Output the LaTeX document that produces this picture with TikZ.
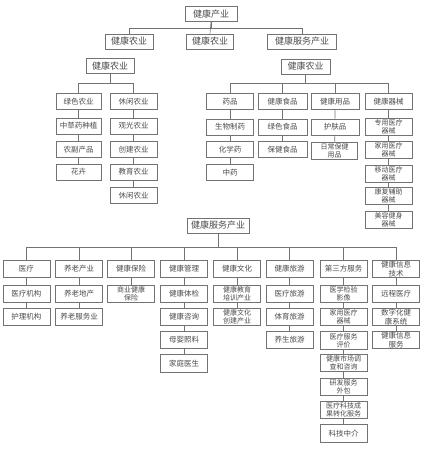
\documentclass[tikz,border=0pt]{standalone}
\usepackage{fontspec}
\newfontfamily\cjk{Noto Sans CJK SC}
\tikzset{
  box/.style={draw=black!55, line width=0.6pt, fill=white, inner sep=0pt,
    minimum width=47pt, minimum height=16pt, text=black!70, align=center,
    font=\cjk\fontsize{7.5}{8.5}\selectfont},
  head/.style={box, font=\cjk\fontsize{9}{10}\selectfont, minimum height=15pt},
  two/.style={box, font=\cjk\fontsize{7}{7.8}\selectfont, minimum height=17pt},
  link/.style={draw=black!55, line width=0.6pt}
}
\begin{document}
\begin{tikzpicture}[x=1pt,y=-1pt]
\useasboundingbox (0,0) rectangle (426,450);
% top level
\node[head, minimum width=52pt] (top) at (211,14) {健康产业};
\node[head, minimum width=48pt] (agr) at (129,41.5) {健康农业};
\node[head, minimum width=47pt] (ind) at (210,41.5) {健康农业};
\node[head, minimum width=69pt] (srv) at (302,41.5) {健康服务产业};
\draw[link] (top.south) -- ++(0,6.5) -| (agr.north);
\draw[link] (top.south) -- (ind.north);
\draw[link] (top.south) -- ++(0,6.5) -| (srv.north);

% agriculture
\node[head, minimum width=48pt] (a0) at (110,66) {健康农业};
\node[box, minimum width=45pt] (a1) at (78.5,101.5) {绿色农业};
\node[box, minimum width=45pt] (a11) at (78.5,126) {中草药种植};
\node[box, minimum width=45pt] (a12) at (78.5,149.5) {农副产品};
\node[box, minimum width=45pt] (a13) at (78.5,172) {花卉};
\node[box] (a2) at (133.5,101.5) {休闲农业};
\node[box] (a21) at (133.5,126) {观光农业};
\node[box] (a22) at (133.5,149.5) {创建农业};
\node[box] (a23) at (133.5,172) {教育农业};
\node[box] (a24) at (133.5,195.5) {休闲农业};
\draw[link] (a0.south) -- ++(0,9.5) -| (a1.north);
\draw[link] (a0.south) -- ++(0,9.5) -| (a2.north);
\draw[link] (a1) -- (a11) -- (a12) -- (a13);
\draw[link] (a2) -- (a21) -- (a22) -- (a23) -- (a24);

% industry
\node[head, minimum width=49pt] (b0) at (305.5,66.5) {健康农业};
\node[box] (b1) at (230,101.5) {药品};
\node[box] (b11) at (230,127) {生物制药};
\node[box] (b12) at (230,149.5) {化学药};
\node[box] (b13) at (230,172.5) {中药};
\node[box, minimum width=49pt] (b2) at (282.5,101.5) {健康食品};
\node[box, minimum width=49pt] (b21) at (282.5,127) {绿色食品};
\node[box, minimum width=49pt] (b22) at (282.5,149.5) {保健食品};
\node[box, minimum width=48pt] (b3) at (335,101.5) {健康用品};
\node[box, minimum width=48pt] (b31) at (335,127) {护肤品};
\node[two, minimum width=46pt] (b32) at (334.5,150.5) {日常保健\\用品};
\node[box] (b4) at (388.5,101.5) {健康器械};
\node[two] (b41) at (388.5,127) {专用医疗\\器械};
\node[two] (b42) at (388.5,150) {家用医疗\\器械};
\node[two] (b43) at (388.5,173.5) {移动医疗\\器械};
\node[two] (b44) at (388.5,195.5) {康复辅助\\器械};
\node[two] (b45) at (388.5,219.5) {美容健身\\器械};
\draw[link] (b0.south) -- ++(0,9) -| (b1.north);
\draw[link] (b0.south) -- ++(0,9) -| (b2.north);
\draw[link] (b0.south) -- ++(0,9) -| (b3.north);
\draw[link] (b0.south) -- ++(0,9) -| (b4.north);
\draw[link] (b1) -- (b11) -- (b12) -- (b13);
\draw[link] (b2) -- (b21) -- (b22);
\draw[link] (b3) -- (b31) -- (b32);
\draw[link] (b4) -- (b41) -- (b42) -- (b43) -- (b44) -- (b45);

% services
\node[head, minimum width=62pt] (c0) at (218,225.5) {健康服务产业};
\node[box, minimum height=17.5pt] (c1) at (26.5,269) {医疗};
\node[box, minimum height=17.5pt] (c11) at (26.5,294) {医疗机构};
\node[box, minimum height=17.5pt] (c12) at (26.5,317) {护理机构};
\node[box, minimum height=17.5pt] (c2) at (79,269) {养老产业};
\node[box, minimum height=17.5pt] (c21) at (79,294) {养老地产};
\node[box, minimum height=17.5pt] (c22) at (79,317) {养老服务业};
\node[box, minimum height=17.5pt] (c3) at (131,269) {健康保险};
\node[two, minimum height=17.5pt] (c31) at (131,294) {商业健康\\保险};
\node[box, minimum height=17.5pt] (c4) at (184,269) {健康管理};
\node[box, minimum height=17.5pt] (c41) at (184,294) {健康体检};
\node[box, minimum height=17.5pt] (c42) at (184,317) {健康咨询};
\node[box, minimum height=17.5pt] (c43) at (184,340) {母婴照料};
\node[box, minimum height=17.5pt] (c44) at (184,363.5) {家庭医生};
\node[box, minimum height=17.5pt] (c5) at (237,269) {健康文化};
\node[two, minimum height=17.5pt] (c51) at (237,294) {健康教育\\培训产业};
\node[two, minimum height=17.5pt] (c52) at (237,317) {健康文化\\创建产业};
\node[box, minimum height=17.5pt] (c6) at (289.5,269) {健康旅游};
\node[box, minimum height=17.5pt] (c61) at (289.5,294) {医疗旅游};
\node[box, minimum height=17.5pt] (c62) at (289.5,317) {体育旅游};
\node[box, minimum height=17.5pt] (c63) at (289.5,340) {养生旅游};
\node[box, minimum height=17.5pt] (c7) at (343.5,269) {第三方服务};
\node[two, minimum height=17.5pt] (c71) at (343.5,294) {医学检验\\影像};
\node[two, minimum height=17.5pt] (c72) at (343.5,317) {家用医疗\\器械};
\node[two, minimum height=17.5pt] (c73) at (343.5,340.5) {医疗服务\\评价};
\node[two, minimum height=17.5pt] (c74) at (343.5,363) {健康市场调\\查和咨询};
\node[two, minimum height=17.5pt] (c75) at (343.5,387) {研发服务\\外包};
\node[two, minimum height=17.5pt] (c76) at (343.5,410) {医疗科技成\\果转化服务};
\node[box, minimum height=17.5pt] (c77) at (343.5,433.5) {科技中介};
\node[two, minimum height=17.5pt, font=\cjk\fontsize{7.5}{8.3}\selectfont] (c8) at (396,269) {健康信息\\技术};
\node[box, minimum height=17.5pt] (c81) at (396,294) {远程医疗};
\node[two, minimum height=17.5pt, font=\cjk\fontsize{7.5}{8.3}\selectfont] (c82) at (396,317) {数字化健\\康系统};
\node[two, minimum height=17.5pt, font=\cjk\fontsize{7.5}{8.3}\selectfont] (c83) at (396,340) {健康信息\\服务};
\foreach \c in {c1,c2,c3,c4,c5,c6,c7,c8}
  \draw[link] (c0.south) -- ++(0,14) -| (\c.north);
\draw[link] (c1) -- (c11) -- (c12);
\draw[link] (c2) -- (c21) -- (c22);
\draw[link] (c3) -- (c31);
\draw[link] (c4) -- (c41) -- (c42) -- (c43) -- (c44);
\draw[link] (c5) -- (c51) -- (c52);
\draw[link] (c6) -- (c61) -- (c62) -- (c63);
\draw[link] (c7) -- (c71) -- (c72) -- (c73) -- (c74) -- (c75) -- (c76) -- (c77);
\draw[link] (c8) -- (c81) -- (c82) -- (c83);
\end{tikzpicture}
\end{document}
